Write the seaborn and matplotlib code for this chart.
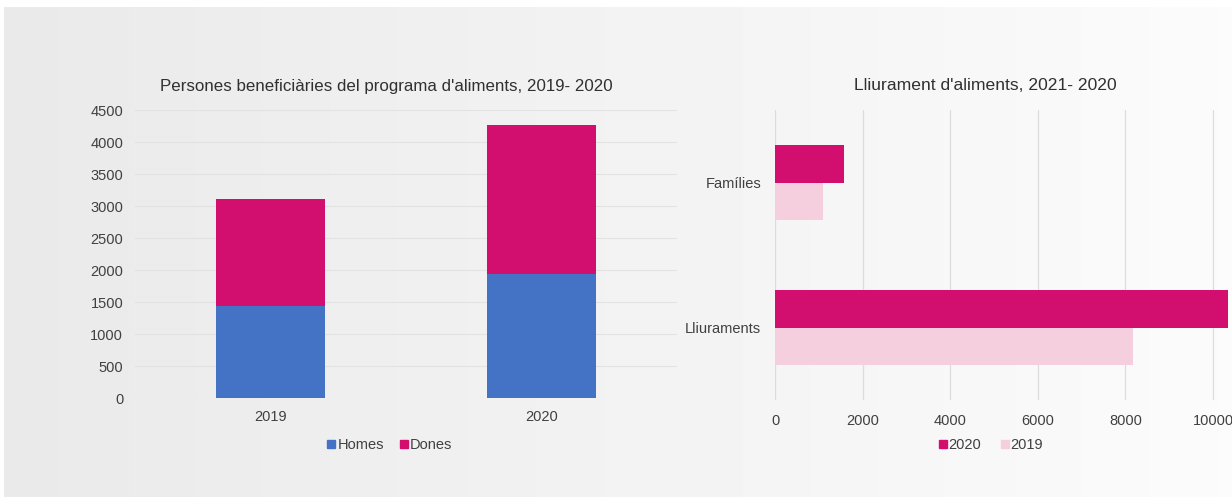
import seaborn as sns
import matplotlib.pyplot as plt
import pandas as pd
import numpy as np
from matplotlib.lines import Line2D

# --- data ---
years = ['2019', '2020']
homes = [1430, 1940]
dones = [1680, 2330]

categories = ['Famílies', 'Lliuraments']
delivery_2020 = [1585, 10335]
delivery_2019 = [1085, 8175]

blue = '#4472C4'
magenta = '#D20F6E'
light_pink = '#F6CFDF'
text_col = '#404040'

sns.set_theme(style='white')
plt.rcParams.update({
    'font.family': ['Liberation Sans', 'DejaVu Sans'],
    'text.color': text_col,
    'axes.labelcolor': text_col,
    'xtick.color': text_col,
    'ytick.color': text_col,
})

W, H = 1232, 501
fig = plt.figure(figsize=(W / 100, H / 100), dpi=100, facecolor='white')

# grey gradient panel behind both charts
bg = fig.add_axes([4 / W, 4 / H, 1 - 4 / W, (H - 11) / H], zorder=0)
grad = np.linspace(0.915, 0.985, 256).reshape(1, -1)
bg.imshow(grad, aspect='auto', cmap='gray', vmin=0, vmax=1, extent=[0, 1, 0, 1])
bg.set_axis_off()

# --- left: stacked bars ---
df_left = pd.DataFrame({'year': years, 'homes': homes, 'dones': dones})
df_left['total'] = df_left['homes'] + df_left['dones']

ax1 = fig.add_axes([135 / W, (H - 398) / H, 542 / W, 288 / H], zorder=1)
ax1.patch.set_alpha(0)
sns.barplot(data=df_left, x='year', y='total', color=magenta, width=0.4,
            saturation=1, linewidth=0, ax=ax1, zorder=3)
sns.barplot(data=df_left, x='year', y='homes', color=blue, width=0.4,
            saturation=1, linewidth=0, ax=ax1, zorder=3)
ax1.set_ylim(0, 4500)
ax1.set_xlim(-0.5, 1.5)
ax1.set_yticks(np.arange(0, 4501, 500))
ax1.yaxis.grid(True, color='#e2e2e2', linewidth=0.8, zorder=0)
ax1.set_axisbelow(True)
ax1.set_xlabel('')
ax1.set_ylabel('')
for s in ax1.spines.values():
    s.set_visible(False)
ax1.tick_params(axis='both', length=0, labelsize=10.5)
ax1.tick_params(axis='y', pad=8.5)
ax1.tick_params(axis='x', pad=8.5)

fig.text(386 / W, 1 - 87 / H, "Persones beneficiàries del programa d'aliments, 2019- 2020",
         ha='center', va='center', fontsize=12.2, color='#303030')

h1 = [Line2D([], [], marker='s', linestyle='', color=blue, markersize=6),
      Line2D([], [], marker='s', linestyle='', color=magenta, markersize=6)]
fig.legend(h1, ['Homes', 'Dones'], loc='center', bbox_to_anchor=(389 / W, 1 - 445 / H),
           ncol=2, frameon=False, fontsize=10.5, handletextpad=0.0, columnspacing=1.0,
           handlelength=0.8)

# --- right: horizontal grouped bars ---
df_right = pd.DataFrame({
    'cat': categories * 2,
    'year': ['2020'] * 2 + ['2019'] * 2,
    'value': delivery_2020 + delivery_2019,
})

ax2 = fig.add_axes([775 / W, (H - 400) / H, 525.6 / W, 290 / H], zorder=1)
ax2.patch.set_alpha(0)
sns.barplot(data=df_right, y='cat', x='value', hue='year', hue_order=['2020', '2019'],
            palette=[magenta, light_pink], orient='h', width=0.524, saturation=1,
            linewidth=0, ax=ax2, legend=False, zorder=3)
ax2.set_xlim(0, 12000)
ax2.set_xticks(np.arange(0, 12001, 2000))
ax2.xaxis.grid(True, color='#dcdcdc', linewidth=0.9, zorder=0)
ax2.set_axisbelow(True)
ax2.set_xlabel('')
ax2.set_ylabel('')
for s in ax2.spines.values():
    s.set_visible(False)
ax2.tick_params(axis='both', length=0, labelsize=10.5)
ax2.tick_params(axis='y', pad=10)
ax2.tick_params(axis='x', pad=10)

fig.text(985 / W, 1 - 85 / H, "Lliurament d'aliments, 2021- 2020",
         ha='center', va='center', fontsize=12.6, color='#303030')

h2 = [Line2D([], [], marker='s', linestyle='', color=magenta, markersize=6),
      Line2D([], [], marker='s', linestyle='', color=light_pink, markersize=6)]
fig.legend(h2, ['2020', '2019'], loc='center', bbox_to_anchor=(990 / W, 1 - 445 / H),
           ncol=2, frameon=False, fontsize=10.5, handletextpad=0.0, columnspacing=1.2,
           handlelength=0.8)

fig.savefig('out.png', dpi=100, facecolor='white')
